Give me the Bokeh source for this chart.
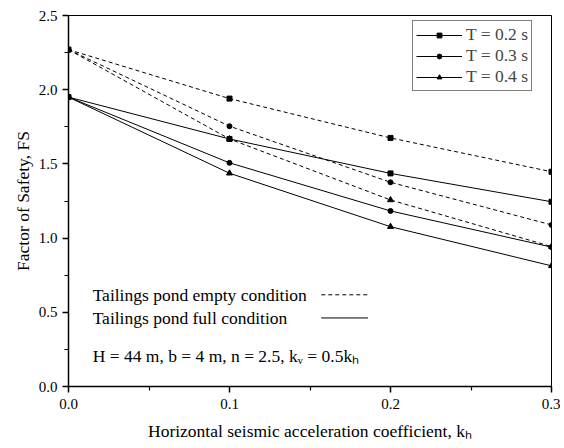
from bokeh.plotting import figure
from bokeh.models import Range1d, Legend, LegendItem, Label, FixedTicker, NumeralTickFormatter
from bokeh.embed import file_html
from bokeh.resources import INLINE

# ---- data ----
kh = [0.0, 0.1, 0.2, 0.3]
empty_02 = [2.27, 1.94, 1.675, 1.447]
empty_03 = [2.27, 1.754, 1.376, 1.089]
empty_04 = [2.27, 1.668, 1.257, 0.943]
full_02 = [1.95, 1.668, 1.436, 1.245]
full_03 = [1.95, 1.507, 1.183, 0.939]
full_04 = [1.95, 1.437, 1.077, 0.813]
series_labels = ["T = 0.2 s", "T = 0.3 s", "T = 0.4 s"]
markers = ["square", "circle", "triangle"]
marker_sizes = [5, 5, 6]
y_ticks = [0.0, 0.5, 1.0, 1.5, 2.0, 2.5]
y_minor = [0.25, 0.75, 1.25, 1.75, 2.25]
x_ticks = [0.0, 0.1, 0.2, 0.3]
x_minor = [0.05, 0.15, 0.25]
key_texts = ["Tailings pond empty condition", "Tailings pond full condition"]
note_text = "H = 44 m, b = 4 m, n = 2.5, k\u1d65 = 0.5k\u2095"

FONT = "Liberation Serif"

p = figure(width=560, height=443, output_backend="svg", toolbar_location=None,
           x_range=Range1d(0, 0.3), y_range=Range1d(0, 2.5),
           min_border_left=68, min_border_right=9, min_border_top=15, min_border_bottom=56)
p.xgrid.visible = False
p.ygrid.visible = False
p.outline_line_color = "black"
p.outline_line_width = 1
p.background_fill_color = "white"
p.border_fill_color = "white"

for ax, ticks, minor in ((p.xaxis[0], x_ticks, x_minor), (p.yaxis[0], y_ticks, y_minor)):
    ax.ticker = FixedTicker(ticks=ticks, minor_ticks=minor)
    ax.formatter = NumeralTickFormatter(format="0.0")
    ax.axis_line_width = 1.5
    ax.axis_line_color = "black"
    ax.major_tick_line_color = "black"
    ax.minor_tick_line_color = "black"
    ax.major_tick_line_width = 1.5
    ax.minor_tick_line_width = 1.2
    ax.major_tick_out = 6
    ax.major_tick_in = 0
    ax.minor_tick_out = 4
    ax.minor_tick_in = 0
    ax.major_label_text_font = FONT
    ax.major_label_text_font_size = "15px"
    ax.major_label_text_color = "black"
    ax.axis_label_text_font = FONT
    ax.axis_label_text_font_size = "17.5px"
    ax.axis_label_text_font_style = "normal"
    ax.axis_label_text_color = "black"

p.xaxis.axis_label = "Horizontal seismic acceleration coefficient, k\u2095"
p.yaxis.axis_label = "Factor of Safety, FS"
p.xaxis.major_label_standoff = 6
p.xaxis.axis_label_standoff = 9
p.yaxis.major_label_standoff = 5
p.yaxis.axis_label_standoff = 3

empties = [empty_02, empty_03, empty_04]
fulls = [full_02, full_03, full_04]
items = []
for i in range(3):
    p.line(kh, empties[i], line_color="black", line_width=1, line_dash="4 3")
    p.scatter(kh, empties[i], marker=markers[i], size=marker_sizes[i],
              fill_color="black", line_color="black")
    lr = p.line(kh, fulls[i], line_color="black", line_width=1)
    sr = p.scatter(kh, fulls[i], marker=markers[i], size=marker_sizes[i],
                   fill_color="black", line_color="black")
    items.append(LegendItem(label=series_labels[i], renderers=[lr, sr]))

legend = Legend(items=items, location=(344, 295), orientation="vertical",
                border_line_color="black", border_line_width=1,
                background_fill_alpha=1.0, background_fill_color="white",
                label_text_font=FONT, label_text_font_size="17.5px",
                glyph_width=46, glyph_height=12, label_height=21,
                label_standoff=4, padding=3, spacing=0, margin=0)
p.add_layout(legend, "center")

# line-style key
key_y = [0.618, 0.462]
key_dash = ["4 3", "solid"]
for t, yv, d in zip(key_texts, key_y, key_dash):
    p.add_layout(Label(x=0.015, y=yv, text=t, text_font=FONT, text_font_size="17.5px",
                       text_baseline="middle", text_color="black"))
    p.segment(x0=0.157, y0=yv, x1=0.186, y1=yv, line_color="black", line_width=1, line_dash=d)

p.add_layout(Label(x=0.015, y=0.208, text=note_text, text_font=FONT, text_font_size="17.5px",
                   text_baseline="middle", text_color="black"))

open("out.html", "w").write(file_html(p, INLINE))
